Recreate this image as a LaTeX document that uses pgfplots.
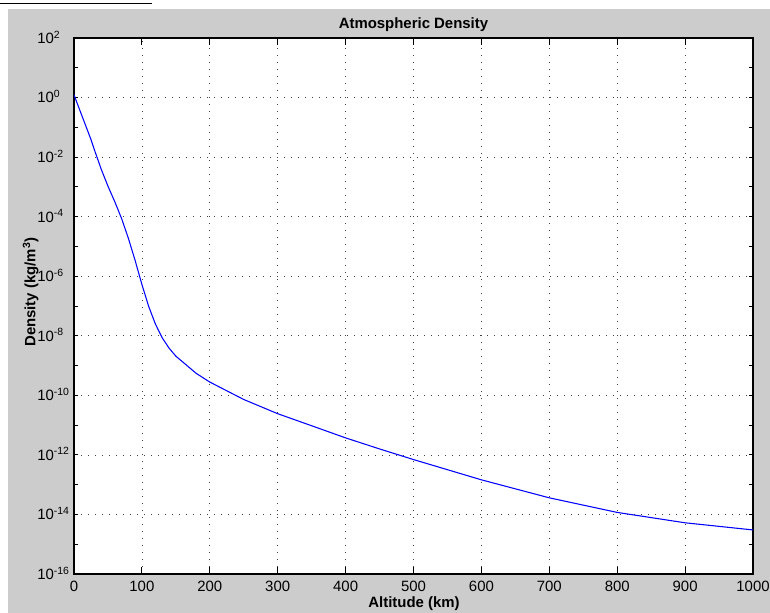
\documentclass[border=0pt]{standalone}
\usepackage{fontspec}
\setmainfont{Liberation Sans}
\usepackage{pgfplots}
\pgfplotsset{compat=1.18}
\definecolor{figgray}{RGB}{204,204,204}
\definecolor{mblue}{RGB}{0,0,255}
\newcommand{\tfont}{\fontsize{11.2}{13}\selectfont}

\begin{document}
\begin{tikzpicture}
\useasboundingbox (0,0) rectangle (577.5pt,459.75pt);
\fill[figgray] (6pt,0) rectangle (577.5pt,453pt);
\draw[line width=1pt] (0,457.3pt) -- (114pt,457.3pt);
\begin{axis}[
    at={(55.5pt,29.25pt)}, anchor=south west,
    scale only axis, width=509.25pt, height=402pt,
    ymode=log,
    xmin=0, xmax=1000, ymin=1e-16, ymax=1e2,
    axis background/.style={fill=white},
    axis line style={black, line width=0.9pt},
    xtick={0,100,200,300,400,500,600,700,800,900,1000},
    xticklabels={0,100,200,300,400,500,600,700,800,900,1000},
    ytick={1e-16,1e-14,1e-12,1e-10,1e-8,1e-6,1e-4,1e-2,1,1e2},
    yticklabels={10\textsuperscript{-16},10\textsuperscript{-14},10\textsuperscript{-12},10\textsuperscript{-10},10\textsuperscript{-8},10\textsuperscript{-6},10\textsuperscript{-4},10\textsuperscript{-2},10\textsuperscript{0},10\textsuperscript{2}},
    minor ytick={1e-15,1e-13,1e-11,1e-9,1e-7,1e-5,1e-3,1e-1,1e1},
    tick align=inside,
    xtick style={black, line width=0.7pt, /pgfplots/major tick length=5pt},
    ytick style={black, line width=0.7pt, /pgfplots/major tick length=3pt, /pgfplots/minor tick length=3pt},
    minor tick style={black, line width=0.7pt},
    xmajorgrids=true, ymajorgrids=true,
    major grid style={black!75, line width=0.5pt, dash pattern=on 0.75pt off 4.5pt},
    xticklabel style={font=\tfont, anchor=base, yshift=-13.3pt, inner sep=0pt},
    yticklabel style={font=\tfont, anchor=base west, xshift=-27.75pt, yshift=-4pt, inner sep=0pt},
]
\addplot[mblue, line width=0.8pt] coordinates {
(0,1.225) (25,3.899e-2) (30,1.774e-2) (40,3.972e-3) (50,1.057e-3)
(60,3.206e-4) (70,8.770e-5) (80,1.905e-5) (90,3.396e-6) (100,5.297e-7)
(110,9.661e-8) (120,2.438e-8) (130,8.484e-9) (140,3.845e-9) (150,2.070e-9)
(180,5.464e-10) (200,2.789e-10) (250,7.248e-11) (300,2.418e-11) (350,9.518e-12)
(400,3.725e-12) (450,1.585e-12) (500,6.967e-13) (600,1.454e-13) (700,3.614e-14)
(800,1.170e-14) (900,5.245e-15) (1000,3.019e-15)
};
\end{axis}
\node[anchor=base, font=\tfont\bfseries] at (310.1pt,438.5pt) {Atmospheric Density};
\node[anchor=base, font=\tfont\bfseries] at (310.5pt,3.75pt) {Altitude (km)};
\node[anchor=base, rotate=90, font=\tfont\bfseries] at (26.5pt,240.75pt) {Density (kg/m\textsuperscript{3})};
\end{tikzpicture}
\end{document}
